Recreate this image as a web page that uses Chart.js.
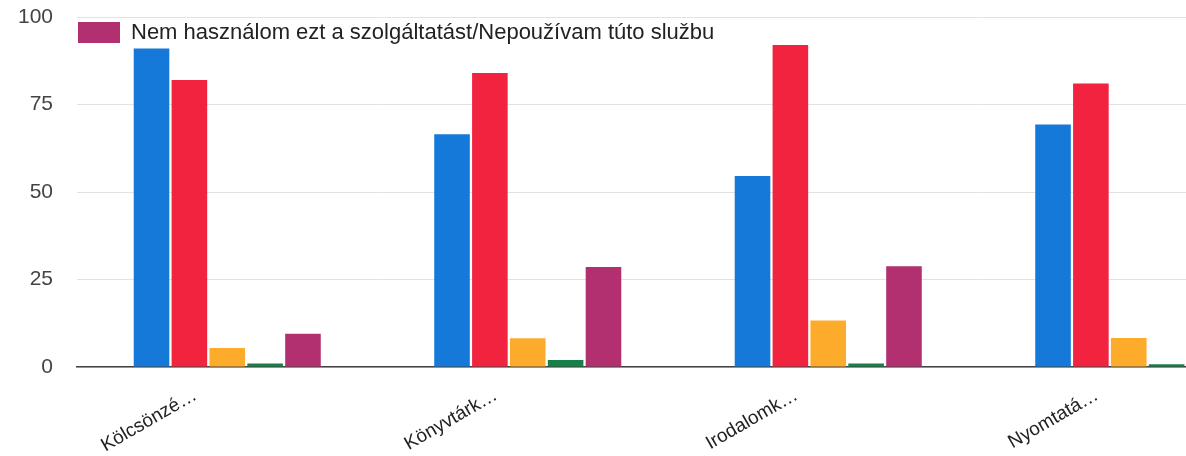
<!DOCTYPE html>
<html>
<head>
<meta charset="utf-8">
<script src="https://cdn.jsdelivr.net/npm/chart.js@4"></script>
<style>
  html, body { margin: 0; padding: 0; background: #fff; overflow: hidden; }
  #wrap { width: 1186px; height: 456px; overflow: hidden; }
</style>
</head>
<body>
<div id="wrap"><canvas id="myChart" width="1280" height="456"></canvas></div>
<script>
const categories = ['Kölcsönzé…', 'Könyvtárk…', 'Irodalomk…', 'Nyomtatá…'];
const yTicks = [0, 25, 50, 75, 100];

const seriesNames = ['Sorozat 1', 'Sorozat 2', 'Sorozat 3', 'Sorozat 4',
  'Nem használom ezt a szolgáltatást/Nepoužívam túto službu'];
const blueVals = [91, 66.5, 54.6, 69.3];
const redVals = [82, 84, 92, 81];
const orangeVals = [5.4, 8.2, 13.3, 8.3];
const greenVals = [1, 2, 1, 0.8];
const magentaVals = [9.5, 28.6, 28.8, 29];

const colors = ['#1479d8', '#f2233f', '#fdab2b', '#17804a', '#b2306f'];
const allVals = [blueVals, redVals, orangeVals, greenVals, magentaVals];

const font = "'Liberation Sans', Arial, sans-serif";

const ctx = document.getElementById('myChart');

new Chart(ctx, {
  type: 'bar',
  data: {
    labels: categories,
    datasets: allVals.map((vals, i) => ({
      label: seriesNames[i],
      data: vals,
      backgroundColor: colors[i],
      borderWidth: 0,
      categoryPercentage: 0.63,
      barPercentage: 0.94
    }))
  },
  options: {
    responsive: false,
    animation: false,
    devicePixelRatio: 1,
    layout: {
      padding: { top: 17, right: 1, left: 0, bottom: 0 }
    },
    plugins: {
      legend: {
        position: 'chartArea',
        fullSize: false,
        align: 'start',
        // empty title only used as a spacer above the single legend item
        title: { display: true, text: ' ', padding: { top: 15.7, bottom: 0 }, font: { size: 4 } },
        labels: {
          filter: item => item.datasetIndex === 4,
          boxWidth: 42,
          boxHeight: 21,
          padding: 1,
          color: '#222',
          font: { family: font, size: 22 }
        }
      },
      tooltip: { enabled: false }
    },
    scales: {
      x: {
        grid: { display: false, drawTicks: false },
        border: { display: true, color: '#444', width: 1.5 },
        ticks: {
          minRotation: 30,
          maxRotation: 30,
          padding: 17,
          labelOffset: -32,
          color: '#222',
          font: { family: font, size: 19 }
        },
        afterFit: s => { s.height = 89; }
      },
      y: {
        min: 0,
        max: 100,
        afterBuildTicks: s => { s.ticks = yTicks.map(v => ({ value: v })); },
        grid: { color: '#e2e2e2', lineWidth: 1, drawTicks: false },
        border: { display: false },
        ticks: {
          padding: 24,
          color: '#444',
          font: { family: font, size: 21 }
        },
        afterFit: s => {
          s.width = 77;
          s.paddingTop = 0;
          s.paddingBottom = 0;
        }
      }
    }
  }
});
</script>
</body>
</html>
